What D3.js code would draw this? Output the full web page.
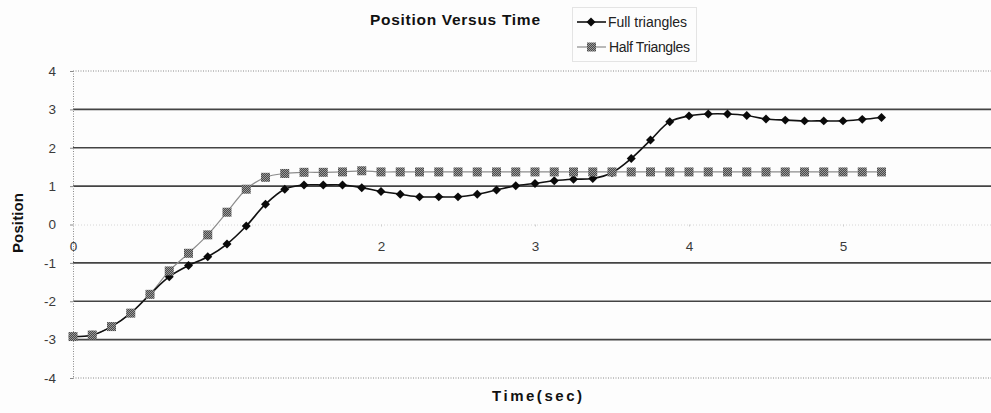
<!DOCTYPE html>
<html>
<head>
<meta charset="utf-8">
<script src="https://cdn.jsdelivr.net/npm/d3@7/dist/d3.min.js"></script>
<style>
  html, body { margin: 0; padding: 0; background: #fdfdfd; }
  svg { display: block; font-family: "Liberation Sans", Arial, sans-serif; }
</style>
</head>
<body>
<svg id="chart" width="991" height="413"></svg>
<script>
// Sample times (s)
const times = [0, 0.125, 0.25, 0.375, 0.5, 0.625, 0.75, 0.875, 1, 1.125, 1.25, 1.375, 1.5, 1.625,
  1.75, 1.875, 2, 2.125, 2.25, 2.375, 2.5, 2.625, 2.75, 2.875, 3, 3.125, 3.25, 3.375, 3.5, 3.625,
  3.75, 3.875, 4, 4.125, 4.25, 4.375, 4.5, 4.625, 4.75, 4.875, 5, 5.125, 5.25];

// Position readings for each run
const fullTriangles = [-2.92, -2.88, -2.66, -2.31, -1.82, -1.36, -1.07, -0.84, -0.51, -0.04, 0.53, 0.92, 1.03, 1.03,
  1.03, 0.96, 0.86, 0.79, 0.72, 0.72, 0.72, 0.79, 0.90, 1.01, 1.07, 1.14, 1.18, 1.20, 1.35, 1.72,
  2.20, 2.68, 2.83, 2.88, 2.88, 2.84, 2.75, 2.72, 2.70, 2.70, 2.70, 2.74, 2.79];
const halfTriangles = [-2.92, -2.88, -2.66, -2.31, -1.82, -1.21, -0.75, -0.27, 0.32, 0.92, 1.23, 1.33, 1.36, 1.36,
  1.37, 1.40, 1.37, 1.37, 1.37, 1.37, 1.37, 1.37, 1.37, 1.37, 1.37, 1.37, 1.37, 1.37, 1.37, 1.37,
  1.37, 1.37, 1.37, 1.37, 1.37, 1.37, 1.37, 1.37, 1.37, 1.37, 1.37, 1.37, 1.37];

const seriesNames = ["Full triangles", "Half Triangles"];
const xTickValues = [0, 2, 3, 4, 5];
const yTickValues = [-4, -3, -2, -1, 0, 1, 2, 3, 4];

const svg = d3.select("#chart");
const plainNumber = d => String(d);

// Hatched fill for the square markers
const defs = svg.append("defs");
const pat = defs.append("pattern")
  .attr("id", "hatch").attr("patternUnits", "userSpaceOnUse")
  .attr("width", 2).attr("height", 2);
pat.append("rect").attr("width", 2).attr("height", 2).attr("fill", "#4a4a4a");
pat.append("rect").attr("width", 1).attr("height", 1).attr("fill", "#9a9a9a");
pat.append("rect").attr("x", 1).attr("y", 1).attr("width", 1).attr("height", 1).attr("fill", "#9a9a9a");

const x = d3.scaleLinear().domain([0, 6]).range([73, 997]);
const y = d3.scaleLinear().domain([-4, 4]).range([378, 71]);

// Horizontal gridlines
const grid = svg.append("g");
grid.selectAll("line.major")
  .data(yTickValues.filter(v => Math.abs(v) !== 4 && v !== 0))
  .join("line")
  .attr("x1", x(0)).attr("x2", 991)
  .attr("y1", d => y(d)).attr("y2", d => y(d))
  .attr("stroke", "#444").attr("stroke-width", 1.6);
grid.selectAll("line.edge")
  .data([-4, 4])
  .join("line")
  .attr("x1", x(0)).attr("x2", 991)
  .attr("y1", d => y(d)).attr("y2", d => y(d))
  .attr("stroke", "#8a8a8a").attr("stroke-width", 1).attr("stroke-dasharray", "1,1.5");

// Left value axis
const yAxis = svg.append("g").attr("transform", `translate(${x(0)},0)`)
  .call(d3.axisLeft(y).tickValues(yTickValues).tickSize(3).tickPadding(14).tickFormat(plainNumber));
yAxis.select(".domain").attr("stroke", "#8a8a8a").attr("stroke-dasharray", "1,1.5");
yAxis.selectAll(".tick line").attr("stroke", "#8a8a8a");
yAxis.selectAll(".tick text").attr("font-size", 13.5).attr("fill", "#3a3a3a")
  .attr("font-family", "'Liberation Sans', Arial, sans-serif");

// Time axis crossing at zero
const xAxis = svg.append("g").attr("transform", `translate(0,${y(0)})`)
  .call(d3.axisBottom(x).tickValues(xTickValues).tickSize(2).tickPadding(15).tickFormat(plainNumber));
xAxis.select(".domain").attr("stroke", "#d6d6d6").attr("stroke-dasharray", "1,2");
xAxis.selectAll(".tick line").attr("stroke", "#cfcfcf");
xAxis.selectAll(".tick text").attr("font-size", 13.5).attr("fill", "#3a3a3a")
  .attr("font-family", "'Liberation Sans', Arial, sans-serif");

// Series lines
const line = d3.line().curve(d3.curveCatmullRom.alpha(0.5))
  .x(d => x(d[0])).y(d => y(d[1]));
const halfPts = times.map((t, i) => [t, halfTriangles[i]]);
const fullPts = times.map((t, i) => [t, fullTriangles[i]]);

svg.append("path").datum(halfPts).attr("d", line)
  .attr("fill", "none").attr("stroke", "#8c8c8c").attr("stroke-width", 1.2);
svg.append("path").datum(fullPts).attr("d", line)
  .attr("fill", "none").attr("stroke", "#111").attr("stroke-width", 1.6);

svg.append("g").selectAll("path").data(fullPts).join("path")
  .attr("transform", d => `translate(${x(d[0])},${y(d[1])}) rotate(45)`)
  .attr("d", d3.symbol().type(d3.symbolSquare).size(40))
  .attr("fill", "#0a0a0a");

svg.append("g").selectAll("rect").data(halfPts).join("rect")
  .attr("x", d => x(d[0]) - 4.5).attr("y", d => y(d[1]) - 4.5)
  .attr("width", 9).attr("height", 9)
  .attr("fill", "url(#hatch)");

// Titles
svg.append("text").attr("x", 370).attr("y", 25)
  .attr("font-size", 15.5).attr("font-weight", "bold").attr("fill", "#111")
  .attr("textLength", 170).attr("lengthAdjust", "spacing")
  .text("Position Versus Time");

svg.append("text").attr("x", 492).attr("y", 401)
  .attr("font-size", 15).attr("font-weight", "bold").attr("fill", "#111")
  .attr("textLength", 90).attr("lengthAdjust", "spacing")
  .text("Time(sec)");

svg.append("text")
  .attr("transform", "translate(23,253) rotate(-90)")
  .attr("font-size", 15).attr("font-weight", "bold").attr("fill", "#111")
  .attr("textLength", 60).attr("lengthAdjust", "spacing")
  .text("Position");

// Legend
const legend = svg.append("g");
legend.append("rect").attr("x", 572.5).attr("y", 7.5).attr("width", 124).attr("height", 54)
  .attr("fill", "none").attr("stroke", "#e4e4e4").attr("stroke-width", 1);

const rows = [
  { name: seriesNames[0], y: 22, stroke: "#111", sw: 1.6 },
  { name: seriesNames[1], y: 47, stroke: "#8c8c8c", sw: 1.2 }
];
rows.forEach((r, i) => {
  legend.append("line").attr("x1", 577).attr("x2", 606).attr("y1", r.y).attr("y2", r.y)
    .attr("stroke", r.stroke).attr("stroke-width", r.sw);
  if (i === 0) {
    legend.append("path").attr("transform", `translate(591,${r.y}) rotate(45)`)
      .attr("d", d3.symbol().type(d3.symbolSquare).size(40)).attr("fill", "#0a0a0a");
  } else {
    legend.append("rect").attr("x", 587).attr("y", r.y - 4.5).attr("width", 9).attr("height", 9)
      .attr("fill", "url(#hatch)");
  }
  legend.append("text").attr("x", 608 + i).attr("y", r.y + 5)
    .attr("font-size", 14).attr("fill", "#222")
    .attr("textLength", i === 0 ? 79 : 81).attr("lengthAdjust", "spacing")
    .text(r.name);
});
</script>
</body>
</html>
